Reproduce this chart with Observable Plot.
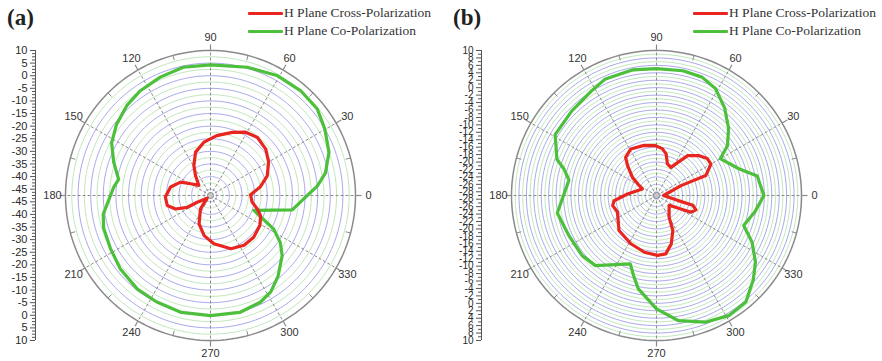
<!DOCTYPE html>
<html><head><meta charset="utf-8">
<script src="https://cdn.jsdelivr.net/npm/d3@7"></script>
<script src="https://cdn.jsdelivr.net/npm/@observablehq/plot@0.6"></script>
<style>
body{margin:0;background:#fff;}
#wrap{position:relative;width:882px;height:361px;overflow:hidden;background:#fff;}
.panel{position:absolute;top:0;}
.panel svg{overflow:visible;}
.plabel{position:absolute;top:5px;font-family:"Liberation Serif","Times New Roman",serif;font-weight:bold;font-size:23px;color:#222;line-height:26px;}
.legend{position:absolute;top:4px;font-family:"Liberation Serif","Times New Roman",serif;font-size:13.5px;color:#333;}
.legend .row{display:flex;align-items:center;height:18px;white-space:nowrap;}
.legend .sw{width:35px;height:3px;margin-right:1px;border-radius:1px;}
</style></head>
<body><div id="wrap"></div>
<script>
// ---------------- data ----------------
const seriesNames = ["H Plane Cross-Polarization", "H Plane Co-Polarization"];
const seriesColors = ["#e8261f", "#4cbf3b"];
const angleTicks = [0, 30, 60, 90, 120, 150, 180, 210, 240, 270, 300, 330];

// panel (a)
const aRadialLabels = [10, 5, 0, -5, -10, -15, -20, -25, -30, -35, -40, -45];
const aCrossAngles = [1, 10, 19, 30, 40, 51, 61, 71, 84, 97, 109, 119, 127, 139, 148, 156, 168, 182, 193, 201, 207, 207, 219, 233, 248, 261, 274, 291, 304, 316, 329, 338, 344, 351];
const aCrossDb = [-31.6, -27.4, -23.7, -20.9, -18.9, -17.9, -18.8, -21.0, -23.6, -26.2, -29.3, -33.9, -37.6, -41.4, -38.9, -34.5, -31.3, -29.6, -29.9, -32.6, -37.2, -41.6, -45.8, -40.9, -35.4, -31.4, -28.3, -24.9, -23.7, -23.7, -24.6, -26.1, -28.2, -30.8];
const aCoAngles = [5, 11, 20, 30, 39, 49, 61, 74, 90, 102, 113, 124, 133, 143, 152, 161, 170, 175, 190, 197, 208, 219, 232, 243, 256, 270, 284, 295, 302, 310, 320, 326, 332, 337, 341, 350, 359];
const aCoDb = [-5.0, -1.1, 2.5, 4.9, 7.0, 7.3, 6.9, 5.4, 4.3, 4.5, 3.5, 2.5, 1.2, -0.8, -3.1, -6.9, -10.5, -9.0, -4.3, -3.2, -2.6, -1.4, -0.4, -0.2, 0.3, 0.1, 0.3, -0.8, -2.4, -5.8, -10.4, -14.1, -19.1, -25.9, -29.3, -14.6, -9.8];

// panel (b)
const bRadialLabels = [10, 8, 6, 4, 2, 0, -2, -4, -6, -8, -10, -12, -14, -16, -18, -20, -22, -24, -26, -28];
const bCrossAngles = [0, 22, 22, 30, 36, 43, 52, 63, 71, 77, 83, 91, 104, 119, 129, 134, 143, 150, 155, 177, 187, 193, 203, 223, 242, 258, 271, 279, 287, 295, 300, 322, 331, 334, 340, 345, 347];
const bCrossDb = [-27.1, -21.9, -14.7, -12.1, -12.1, -13.3, -15.4, -20.5, -20.0, -17.5, -16.3, -15.6, -15.1, -14.7, -15.8, -17.8, -20.9, -23.6, -24.8, -21.2, -17.5, -16.9, -17.6, -15.2, -14.3, -13.4, -12.9, -13.1, -15.4, -18.6, -22.2, -24.7, -21.5, -18.7, -17.7, -18.9, -23.2];
const bCoAngles = [0, 11, 18, 30, 35, 43, 52, 61, 69, 78, 90, 101, 114, 122, 135, 149, 160, 164, 170, 190, 205, 219, 229, 249, 254, 259, 270, 280, 291, 301, 310, 319, 326, 334, 341, 351];
const bCoDb = [-0.1, -1.4, -5.7, -9.2, -5.7, -2.5, 0.8, 3.8, 5.1, 5.3, 5.1, 5.4, 5.2, 4.1, 3.2, 2.8, -0.5, -3.1, -5.1, -1.9, -3.1, -3.3, -4.0, -9.3, -6.6, -3.4, 1.5, 5.2, 7.5, 8.7, 8.4, 5.5, 3.1, -0.4, -4.2, -2.1];

// ---------------- drawing ----------------
const H = 361, CY = 195, R_PX = 145, AXIS_X = 35, CX_OFF = 175;

function makePanel(cfg) {
  const {width, minDb, maxDb, labels, majorStep, ringStep, minorStep, cross, co, axisFont} = cfg;
  const R = maxDb - minDb;
  const k = R_PX / R;                 // px per radial unit
  const xL = -CX_OFF / k;
  const marginRight = width - (AXIS_X + CX_OFF + R_PX);
  const rad = a => a * Math.PI / 180;
  const toXY = (angles, vals) => angles.map((a, i) => {
    const r = vals[i] - minDb;
    return {x: r * Math.cos(rad(a)), y: r * Math.sin(rad(a))};
  });
  const circle = (rho, id) => d3.range(0, 361, 2).map(a => ({x: rho * Math.cos(rad(a)), y: rho * Math.sin(rad(a)), id}));
  const blue = [], green = [];
  for (let i = 1; ; i++) {
    const db = maxDb - i * ringStep;
    if (db <= minDb + 1e-9) break;
    const major = Math.abs(Math.round(db / majorStep) * majorStep - db) < 1e-6;
    (major ? blue : green).push(...circle(db - minDb, i));
  }
  const majorPos = labels.flatMap(l => [l - minDb, -(l - minDb)]);
  const minorPos = [];
  for (let v = minDb; v <= maxDb + 1e-9; v += minorStep) {
    const major = Math.abs(Math.round(v / majorStep) * majorStep - v) < 1e-6;
    if (!major) { minorPos.push(v - minDb, -(v - minDb)); }
  }
  const fmt = v => String(Math.round((Math.abs(v) + minDb) * 100) / 100);
  const tickOut = 6 / k, tickIn = 5 / k, labR = 158 / k;
  const minorAngles = angleTicks.map(a => a + 15);

  return Plot.plot({
    width, height: H,
    marginLeft: AXIS_X, marginRight, marginTop: CY - R_PX, marginBottom: H - CY - R_PX,
    x: {domain: [xL, R], axis: null, label: null},
    y: {domain: [-R, R], label: null},
    style: {fontFamily: "'Liberation Sans', Arial, sans-serif", fontSize: "11px", background: "transparent", overflow: "visible"},
    marks: [
      // rings
      Plot.line(green, {x: "x", y: "y", z: "id", stroke: "#b9e4b6", strokeWidth: 0.9, curve: "linear"}),
      Plot.line(blue, {x: "x", y: "y", z: "id", stroke: "#9e9fe6", strokeWidth: 0.9, curve: "linear"}),
      // spokes
      Plot.link(angleTicks, {x1: 0, y1: 0, x2: a => R * Math.cos(rad(a)), y2: a => R * Math.sin(rad(a)), stroke: "#8c8c8c", strokeWidth: 1, strokeDasharray: "3,2"}),
      // outer circle and angular ticks
      Plot.line(circle(R, 0), {x: "x", y: "y", stroke: "#8a8a8a", strokeWidth: 1.5, curve: "linear"}),
      Plot.link(angleTicks, {x1: a => R * Math.cos(rad(a)), y1: a => R * Math.sin(rad(a)), x2: a => (R + tickOut) * Math.cos(rad(a)), y2: a => (R + tickOut) * Math.sin(rad(a)), stroke: "#8a8a8a", strokeWidth: 1.2}),
      Plot.link(minorAngles, {x1: a => (R - tickIn) * Math.cos(rad(a)), y1: a => (R - tickIn) * Math.sin(rad(a)), x2: a => R * Math.cos(rad(a)), y2: a => R * Math.sin(rad(a)), stroke: "#8a8a8a", strokeWidth: 1}),
      Plot.text(angleTicks, {x: a => labR * Math.cos(rad(a)), y: a => labR * Math.sin(rad(a)), text: a => String(a), fill: "#333", fontSize: 11}),
      // centre
      Plot.dot([0], {x: () => 0, y: () => 0, r: 3, fill: "#c8c8c8", stroke: "#8a8a8a", strokeWidth: 1}),
      // series
      Plot.line(toXY(co.angles, co.values), {x: "x", y: "y", stroke: seriesColors[1], strokeWidth: 3.2, curve: "linear-closed", strokeLinejoin: "round"}),
      Plot.line(toXY(cross.angles, cross.values), {x: "x", y: "y", stroke: seriesColors[0], strokeWidth: 3.2, curve: "linear-closed", strokeLinejoin: "round"}),
      // radial axis on the left (mirrored)
      Plot.ruleX([xL], {y1: -R, y2: R, stroke: "#555", strokeWidth: 1}),
      Plot.axisY({ticks: minorPos, tickSize: 3, tickFormat: () => "", stroke: "#555", anchor: "left", label: null}),
      Plot.axisY({ticks: majorPos, tickSize: 5, tickPadding: 3, tickFormat: fmt, stroke: "#555", anchor: "left", fontSize: axisFont, fill: "#2a2a2a", label: null})
    ]
  });
}

const wrap = document.getElementById("wrap");
function addPanel(left, width, cfg, letter, legendLeft) {
  const div = document.createElement("div");
  div.className = "panel"; div.style.left = left + "px";
  div.appendChild(makePanel({...cfg, width}));
  wrap.appendChild(div);
  const lab = document.createElement("div");
  lab.className = "plabel"; lab.style.left = (left + 7) + "px"; lab.textContent = letter;
  wrap.appendChild(lab);
  const leg = document.createElement("div");
  leg.className = "legend"; leg.style.left = legendLeft + "px";
  seriesNames.forEach((n, i) => {
    const row = document.createElement("div"); row.className = "row";
    const sw = document.createElement("div"); sw.className = "sw"; sw.style.background = seriesColors[i];
    const t = document.createElement("span"); t.textContent = n;
    row.appendChild(sw); row.appendChild(t); leg.appendChild(row);
  });
  wrap.appendChild(leg);
}

addPanel(0, 446, {minDb: -47.5, maxDb: 10, labels: aRadialLabels, majorStep: 5, ringStep: 2.5, minorStep: 1.25, axisFont: 11,
  cross: {angles: aCrossAngles, values: aCrossDb}, co: {angles: aCoAngles, values: aCoDb}}, "(a)", 248);
addPanel(446, 436, {minDb: -29, maxDb: 10, labels: bRadialLabels, majorStep: 2, ringStep: 1, minorStep: 1, axisFont: 10,
  cross: {angles: bCrossAngles, values: bCrossDb}, co: {angles: bCoAngles, values: bCoDb}}, "(b)", 693);
</script>
</body></html>
